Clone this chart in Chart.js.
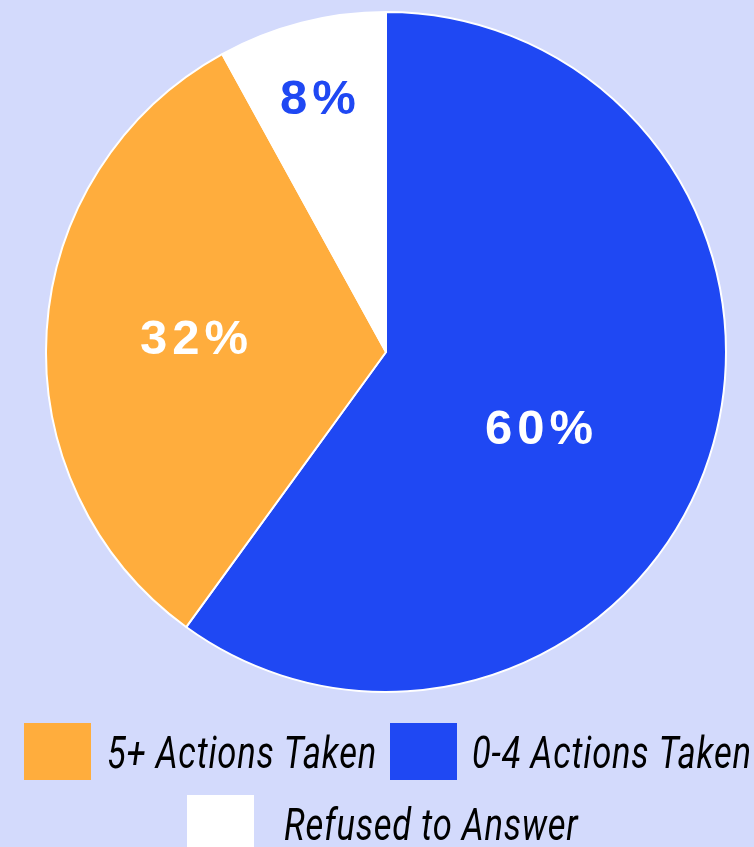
<!DOCTYPE html>
<html>
<head>
<meta charset="utf-8">
<script src="https://cdn.jsdelivr.net/npm/chart.js@4"></script>
<style>
    html, body { margin: 0; padding: 0; background: #d3dafc; }
    #pieCanvas { display: block; }
</style>
</head>
<body>
<canvas id="pieCanvas" width="754" height="847"></canvas>
<script>
    // data
    var categories = ['0-4 Actions Taken', '5+ Actions Taken', 'Refused to Answer'];
    var shares = [60, 32, 8];
    var sliceColors = ['#1f48f3', '#ffad3d', '#ffffff'];
    var labelColors = ['#ffffff', '#ffffff', '#1f48f3'];
    var legendOrder = [1, 0, 2];

    // where each % label sits: fraction of radius, angle nudge (deg)
    var labelPlace = [[0.5, 9], [0.57, 0], [0.77, -1]];

    var pieLabels = {
        id: 'pieLabels',
        afterDatasetsDraw: function (chart) {
            var ctx = chart.ctx;
            var meta = chart.getDatasetMeta(0);
            ctx.save();
            ctx.font = 'bold 49px "Liberation Sans", Arial, sans-serif';
            ctx.letterSpacing = '5px';
            ctx.textAlign = 'center';
            ctx.textBaseline = 'middle';
            meta.data.forEach(function (arc, i) {
                var p = arc.getProps(['x', 'y', 'startAngle', 'endAngle', 'outerRadius'], true);
                var a = (p.startAngle + p.endAngle) / 2 + labelPlace[i][1] * Math.PI / 180;
                var r = p.outerRadius * labelPlace[i][0];
                ctx.fillStyle = labelColors[i];
                ctx.fillText(shares[i] + '%', p.x + Math.cos(a) * r + 4, p.y + Math.sin(a) * r + 1);
            });
            ctx.restore();
        }
    };

    // legend laid out in two rows, first row runs off the right edge
    var legendRows = [[24, 723, 107], [390, 723, 472], [187, 795, 284]];
    var boxLegend = {
        id: 'boxLegend',
        afterDraw: function (chart) {
            var ctx = chart.ctx;
            ctx.save();
            ctx.font = 'italic 44px Roboto, "Liberation Sans", sans-serif';
            ctx.letterSpacing = '1px';
            ctx.textBaseline = 'alphabetic';
            ctx.textAlign = 'left';
            // squeeze the type to a condensed look
            var squeeze = 270 / ctx.measureText(categories[1]).width;
            legendOrder.forEach(function (idx, k) {
                var pos = legendRows[k];
                ctx.fillStyle = sliceColors[idx];
                ctx.fillRect(pos[0], pos[1], 67, 57);
                ctx.fillStyle = '#000000';
                ctx.save();
                ctx.translate(pos[2], pos[1] + 45);
                ctx.scale(squeeze, 1);
                ctx.fillText(categories[idx], 0, 0);
                ctx.restore();
            });
            ctx.restore();
        }
    };

    window.onload = function () {
        var ctx = document.getElementById('pieCanvas').getContext('2d');
        window.myPie = new Chart(ctx, {
            type: 'pie',
            data: {
                labels: categories,
                datasets: [{
                    data: shares,
                    backgroundColor: sliceColors,
                    borderColor: '#ffffff',
                    borderWidth: 2
                }]
            },
            options: {
                responsive: false,
                animation: false,
                layout: {
                    padding: { top: 11, bottom: 154, left: 45, right: 27 }
                },
                plugins: {
                    legend: { display: false },
                    tooltip: { enabled: false }
                }
            },
            plugins: [pieLabels, boxLegend]
        });
    };
</script>
</body>
</html>
